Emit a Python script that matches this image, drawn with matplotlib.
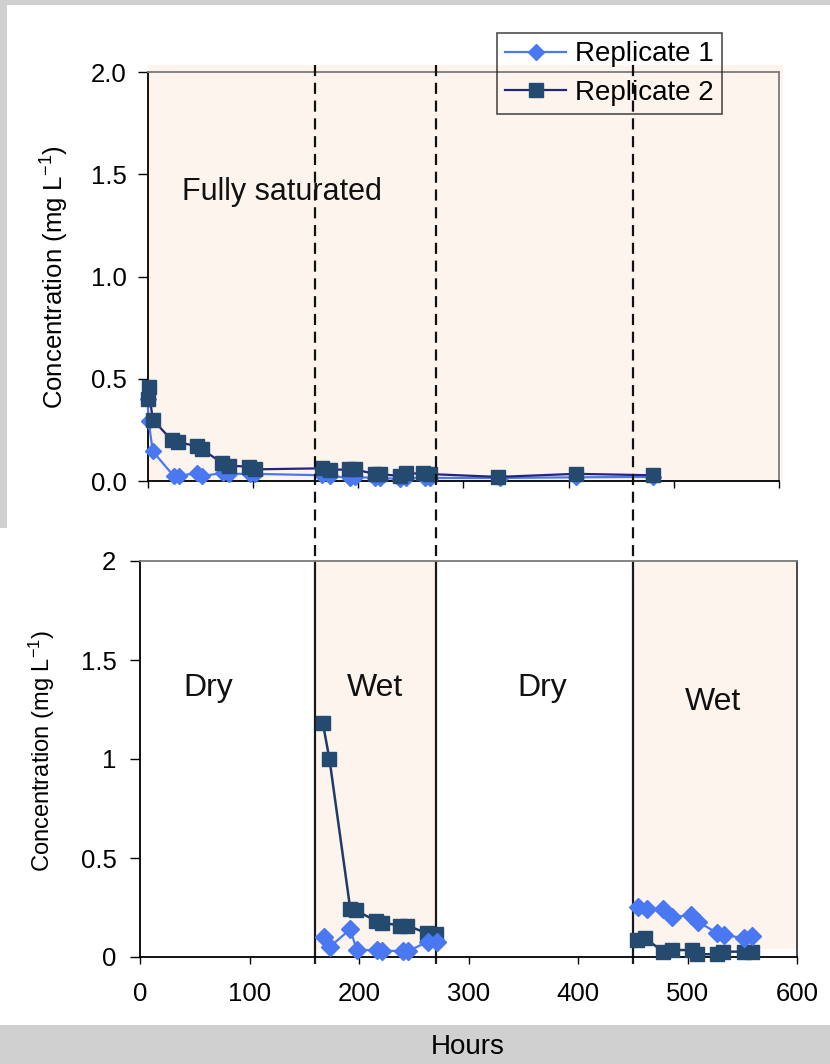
import matplotlib
matplotlib.use("Agg")
import matplotlib.pyplot as plt
from matplotlib.patches import Rectangle
from matplotlib.lines import Line2D
import matplotlib.transforms as mtransforms
from matplotlib.ticker import FuncFormatter

plt.rcParams['font.family'] = ['Liberation Sans', 'DejaVu Sans']
plt.rcParams['mathtext.fontset'] = 'custom'
plt.rcParams['mathtext.rm'] = 'Liberation Sans'
plt.rcParams['mathtext.it'] = 'Liberation Sans'

# ---------------- data ----------------
# Top panel: fully saturated
sat_hours_r1 = [0, 1, 5, 25, 30, 47, 52, 72, 77, 97, 102, 166, 173, 192, 197, 216, 221,
                240, 246, 264, 268, 335, 407, 480]
sat_conc_r1 = [0.40, 0.295, 0.145, 0.024, 0.024, 0.04, 0.024, 0.04, 0.035, 0.035, 0.035,
               0.028, 0.024, 0.016, 0.02, 0.015, 0.015, 0.01, 0.015, 0.015, 0.015, 0.015,
               0.018, 0.02]
sat_hours_r2 = [0, 1, 5, 23, 29, 47, 52, 71, 77, 96, 102, 166, 173, 191, 197, 216, 221,
                240, 246, 262, 268, 333, 407, 480]
sat_conc_r2 = [0.40, 0.46, 0.30, 0.20, 0.19, 0.17, 0.155, 0.087, 0.075, 0.07, 0.057,
               0.062, 0.054, 0.057, 0.057, 0.034, 0.034, 0.024, 0.037, 0.037, 0.034, 0.02,
               0.035, 0.028]

# Bottom panel: dry / wet cycles
wet1_hours_r1 = [168, 173.5, 192, 198, 216, 221, 240, 245, 263, 271.5]
wet1_conc_r1 = [0.10, 0.052, 0.14, 0.035, 0.035, 0.032, 0.03, 0.03, 0.078, 0.078]
wet1_hours_r2 = [167, 173, 192, 197, 215.5, 220.7, 237, 244, 262, 270]
wet1_conc_r2 = [1.18, 1.0, 0.244, 0.235, 0.183, 0.174, 0.159, 0.159, 0.12, 0.115]

wet2_hours_r1 = [455, 463, 478, 485.5, 503, 510, 526.6, 533, 551.6, 558.6]
wet2_conc_r1 = [0.255, 0.244, 0.242, 0.20, 0.213, 0.176, 0.123, 0.112, 0.095, 0.107]
wet2_hours_r2 = [453.6, 461, 478, 485.5, 503.8, 509, 526.6, 532.7, 551.6, 558.6]
wet2_conc_r2 = [0.086, 0.095, 0.027, 0.035, 0.035, 0.014, 0.014, 0.027, 0.027, 0.027]

phase_bounds = [160, 270, 450]          # hours where dry/wet phases switch
wet_periods = [(160, 270), (450, 600)]
phase_labels = ["Dry", "Wet", "Dry", "Wet"]
phase_label_x = [62, 215, 367, 523]
phase_label_y = [1.36, 1.36, 1.36, 1.29]

series_names = ["Replicate 1", "Replicate 2"]
x_ticks = [0, 100, 200, 300, 400, 500, 600]
y_ticks = [0, 0.5, 1.0, 1.5, 2.0]

# ---------------- style ----------------
PEACH = '#fdf4ee'
C1 = '#4a78f2'
C1_LINE = '#4a78f2'
C2_MARK = '#244a70'
C2_LINE_TOP = '#24247e'
C2_LINE_BOT = '#1f3c66'

W, H = 830, 1064
fig = plt.figure(figsize=(W / 100, H / 100), dpi=100)
fig.patch.set_facecolor('#d0d0d0')
# white sheets behind the panels
fig.add_artist(Rectangle((7 / W, 1 - 528 / H), 1 - 7 / W, (528 - 5) / H,
                         transform=fig.transFigure, facecolor='white',
                         edgecolor='none', zorder=-10))
fig.add_artist(Rectangle((0, 1 - 1025 / H), 1, (1025 - 528) / H,
                         transform=fig.transFigure, facecolor='white',
                         edgecolor='none', zorder=-10))

# ---------------- top panel ----------------
ax1 = fig.add_axes([147.5 / W, 1 - 481 / H, (779 - 147.5) / W, (481 - 72) / H])
ax1.set_facecolor('none')
ax1.add_patch(Rectangle((0, 0), 604, 2.035, facecolor=PEACH, edgecolor='none',
                        clip_on=False, zorder=0))
ax1.plot(sat_hours_r1, sat_conc_r1, color=C1_LINE, lw=1.6, marker='D', ms=8.5,
         mfc=C1, mec=C1, label=series_names[0], zorder=3, clip_on=False)
ax1.plot(sat_hours_r2, sat_conc_r2, color=C2_LINE_TOP, lw=1.6, marker='s', ms=9.5,
         mfc=C2_MARK, mec=C2_MARK, label=series_names[1], zorder=4, clip_on=False)
ax1.set_xlim(0, 600)
ax1.set_ylim(0, 2.0)
ax1.set_xticks(x_ticks)
ax1.set_xticklabels([])
ax1.set_yticks(y_ticks)
ax1.yaxis.set_major_formatter(FuncFormatter(lambda v, p: f"{v:.1f}"))
ax1.tick_params(axis='y', direction='out', length=7, width=1, pad=8, labelsize=18.5)
ax1.tick_params(axis='x', direction='out', length=5, width=1)
for s in ['left', 'bottom']:
    ax1.spines[s].set_color('black')
    ax1.spines[s].set_linewidth(1.3)
for s in ['top', 'right']:
    ax1.spines[s].set_color('#7a7a7a')
    ax1.spines[s].set_linewidth(1.3)
ax1.text(33, 1.413, "Fully saturated", fontsize=22, ha='left', va='center', color='#111111')

leg = ax1.legend(loc='upper left', bbox_to_anchor=(497 / W, 1 - 33 / H),
                 bbox_transform=fig.transFigure, fontsize=20, frameon=True,
                 fancybox=False, edgecolor='#222222', facecolor='none',
                 borderaxespad=0, borderpad=0.3, labelspacing=0.45,
                 handlelength=2.2, handletextpad=0.3)
leg.get_frame().set_linewidth(1.2)

# ---------------- bottom panel ----------------
ax2 = fig.add_axes([140 / W, 1 - 957 / H, 657 / W, (957 - 561) / H])
ax2.set_facecolor('white')
for (a, b) in wet_periods:
    ax2.add_patch(Rectangle((a, 0.04), b - a, 1.96, facecolor=PEACH,
                            edgecolor='none', zorder=0))
ax2.vlines(phase_bounds, -0.035, 2.0, colors='#1a1a1a', lw=1.6, zorder=2,
           clip_on=False)
for hx, cy in [(wet1_hours_r2, wet1_conc_r2), (wet2_hours_r2, wet2_conc_r2)]:
    ax2.plot(hx, cy, color=C2_LINE_BOT, lw=1.8, marker='s', ms=9.5,
             mfc=C2_MARK, mec=C2_MARK, zorder=3, clip_on=False)
for hx, cy in [(wet1_hours_r1, wet1_conc_r1), (wet2_hours_r1, wet2_conc_r1)]:
    ax2.plot(hx, cy, color=C1_LINE, lw=1.6, marker='D', ms=9,
             mfc=C1, mec=C1, zorder=4, clip_on=False)
ax2.set_xlim(0, 600)
ax2.set_ylim(0, 2)
ax2.set_xticks(x_ticks)
ax2.set_yticks(y_ticks)
ax2.yaxis.set_major_formatter(FuncFormatter(lambda v, p: f"{v:g}"))
ax2.tick_params(axis='y', direction='out', length=7, width=1, pad=10, labelsize=18.5)
ax2.tick_params(axis='x', direction='out', length=5, width=1, pad=13, labelsize=18.5)
for s in ['left', 'bottom']:
    ax2.spines[s].set_color('black')
    ax2.spines[s].set_linewidth(1.3)
ax2.spines['top'].set_color('#7a7a7a')
ax2.spines['top'].set_linewidth(1.3)
ax2.spines['right'].set_color('#3a3a3a')
ax2.spines['right'].set_linewidth(1.3)
for lab, lx, ly in zip(phase_labels, phase_label_x, phase_label_y):
    ax2.text(lx, ly, lab, fontsize=23, ha='center', va='center', color='#111111')

# dashed phase lines linking the two panels
blend = mtransforms.blended_transform_factory(ax2.transData, fig.transFigure)
for xb in phase_bounds:
    fig.add_artist(Line2D([xb, xb], [1 - 65 / H, 1 - 561 / H], transform=blend,
                          color='#111111', lw=1.6, linestyle=(0, (5, 3)), zorder=5))

# axis titles
fig.text(55 / W, 1 - 277 / H, "Concentration (mg L$^{-1}$)", rotation=90,
         ha='center', va='center', fontsize=18.5)
fig.text(42 / W, 1 - 751 / H, "Concentration (mg L$^{-1}$)", rotation=90,
         ha='center', va='center', fontsize=17)
fig.text(468 / W, 1 - 1047 / H, "Hours", ha='center', va='center', fontsize=20)

fig.savefig("out.png", dpi=100, facecolor=fig.get_facecolor())
